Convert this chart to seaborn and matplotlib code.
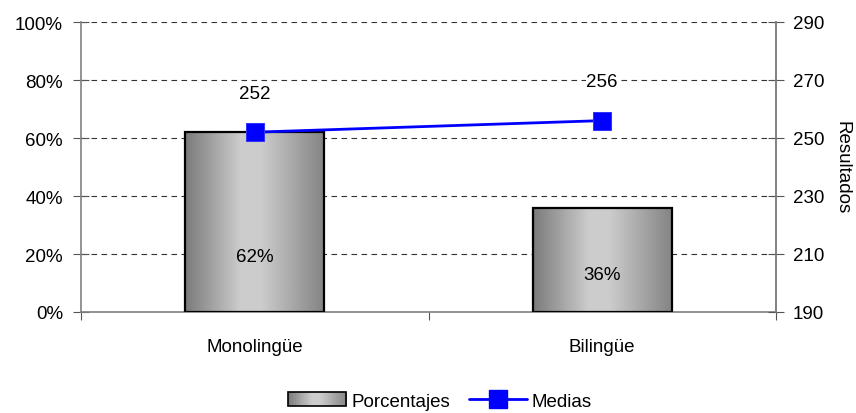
import matplotlib
matplotlib.use("Agg")
import matplotlib.pyplot as plt
import matplotlib.ticker as mticker
from matplotlib.patches import Rectangle
from matplotlib.lines import Line2D
from matplotlib.legend_handler import HandlerPatch
import numpy as np
import seaborn as sns

# datos
categorias = ["Monolingüe", "Bilingüe"]
porcentajes = [62, 36]
etiquetas_pct = ["62%", "36%"]
medias = [252, 256]
etiquetas_medias = ["252", "256"]

sns.set_style("white")
plt.rcParams['font.family'] = ['Liberation Sans', 'DejaVu Sans']
plt.rcParams['font.size'] = 13.5
plt.rcParams['text.color'] = 'black'
plt.rcParams['xtick.color'] = 'black'
plt.rcParams['ytick.color'] = 'black'
plt.rcParams['axes.labelcolor'] = 'black'

fig = plt.figure(figsize=(8.56, 4.14), dpi=100)
ax = fig.add_axes([81/856, 101/414, 695/856, 290/414])

sns.barplot(x=list(range(len(categorias))), y=porcentajes, ax=ax, width=0.4,
            color="#a0a0a0", edgecolor="black", linewidth=1.6, native_scale=True)

# degradado horizontal tipo Excel en las barras
perfil = np.interp(np.linspace(0, 1, 200), [0, 0.4, 0.55, 1], [0.48, 0.8, 0.8, 0.52])
grad = np.tile(perfil, (2, 1))
for p in list(ax.patches):
    x0, w, h = p.get_x(), p.get_width(), p.get_height()
    im = ax.imshow(grad, extent=[x0, x0 + w, 0, h], aspect="auto", cmap="gray",
                   vmin=0, vmax=1, zorder=2, interpolation="bilinear")
    im.set_clip_path(p)
    p.set_facecolor("none")
    p.set_zorder(3)

ax.set_xlim(-0.5, 1.5)
ax.set_ylim(0, 100)
ax.set_yticks([0, 20, 40, 60, 80, 100])
ax.yaxis.set_major_formatter(mticker.FuncFormatter(lambda v, _: f"{v:.0f}%"))
ax.set_axisbelow(True)
ax.yaxis.grid(True, linestyle=(0, (5, 4)), color="#333333", linewidth=0.8)

ax.set_xticks([-0.5, 0.5, 1.5])
ax.set_xticklabels([])
ax.set_xticks(range(len(categorias)), minor=True)
ax.set_xticklabels(categorias, minor=True)
ax.tick_params(axis="x", which="major", bottom=True, direction="out", length=6,
               color="#555555")
ax.tick_params(axis="x", which="minor", bottom=True, length=0, pad=19)
ax.tick_params(axis="y", left=True, direction="inout", length=12, color="#555555", pad=7)

ax.spines["top"].set_visible(False)
for s in ["left", "bottom", "right"]:
    ax.spines[s].set_color("#808080")
    ax.spines[s].set_linewidth(1.2)

for i, (v, t) in enumerate(zip(porcentajes, etiquetas_pct)):
    ax.text(i, [19, 13][i], t, ha="center", va="center", zorder=5)

ax2 = ax.twinx()
sns.lineplot(x=list(range(len(categorias))), y=medias, ax=ax2, color="#0000ff",
             linewidth=2, marker="s", markersize=13, markeredgecolor="#3333ff")
ax2.set_ylim(190, 290)
ax2.set_yticks([190, 210, 230, 250, 270, 290])
ax2.tick_params(axis="y", right=True, direction="inout", length=12, color="#555555", pad=6)
ax2.set_ylabel("Resultados", rotation=270, labelpad=19)
for s in ["top", "left", "bottom"]:
    ax2.spines[s].set_visible(False)
ax2.spines["right"].set_color("#808080")
ax2.spines["right"].set_linewidth(1.2)

for i, (v, t) in enumerate(zip(medias, etiquetas_medias)):
    ax2.annotate(t, (i, v), xytext=(0, 28), textcoords="offset points",
                 ha="center", va="center",
                 bbox=dict(facecolor="white", edgecolor="none", pad=0.5))


# leyenda con degradado en el rectángulo
class HandlerGrad(HandlerPatch):
    def create_artists(self, legend, orig_handle, xdescent, ydescent, width,
                       height, fontsize, trans):
        arts = []
        n = 40
        for k in range(n):
            c = str(np.interp((k + 0.5) / n, [0, 0.4, 0.55, 1], [0.48, 0.8, 0.8, 0.52]))
            r = Rectangle((-xdescent + width * k / n, -ydescent), width / n + 0.3, height,
                          facecolor=c, edgecolor="none", transform=trans)
            arts.append(r)
        arts.append(Rectangle((-xdescent, -ydescent), width, height, facecolor="none",
                              edgecolor="black", linewidth=1.2, transform=trans))
        return arts


h_bar = Rectangle((0, 0), 1, 1, facecolor="#a8a8a8", edgecolor="black", linewidth=1.2)
h_line = Line2D([], [], color="#0000ff", linewidth=2, marker="s", markersize=13)
fig.legend([h_bar, h_line], ["Porcentajes", "Medias"], loc="center",
           bbox_to_anchor=(440/856, 1 - 402/414), ncol=2, frameon=False,
           handlelength=3.1, handletextpad=0.25, columnspacing=1.0,
           handler_map={Rectangle: HandlerGrad()})

fig.savefig("out.png", dpi=100)
